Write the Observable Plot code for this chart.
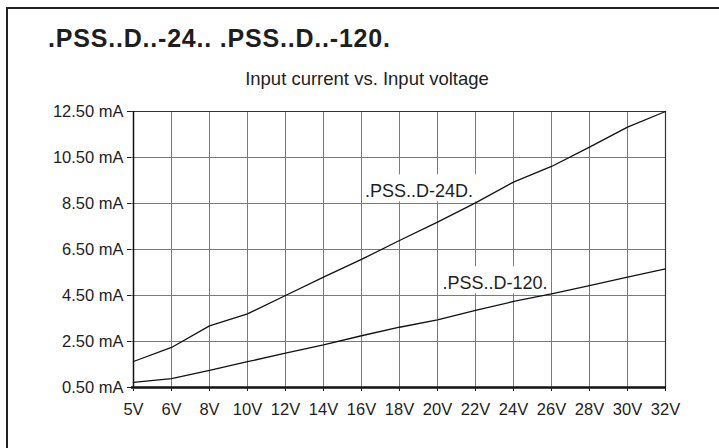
<!DOCTYPE html>
<html>
<head>
<meta charset="utf-8">
<script src="https://cdn.jsdelivr.net/npm/d3@7"></script>
<script src="https://cdn.jsdelivr.net/npm/@observablehq/plot@0.6"></script>
<style>
  html, body { margin: 0; padding: 0; overflow: hidden; background: #fff; width: 719px; height: 448px; }
  #wrap { position: relative; width: 719px; height: 448px; font-family: "Liberation Sans", Arial, sans-serif; color: #1e1e1e; }
  #frame { position: absolute; left: 6px; top: 7px; width: 800px; height: 800px; border: 2px solid #222; box-sizing: border-box; }
  #title { position: absolute; left: 48px; top: 26px; font-size: 25px; line-height: 25px; font-weight: bold; letter-spacing: 0.8px; white-space: nowrap; }
  #subtitle { position: absolute; left: 367px; top: 70px; transform: translateX(-50%); font-size: 18.5px; line-height: 18.5px; white-space: nowrap; }
  #chart { position: absolute; left: 0; top: 0; }
</style>
</head>
<body>
<div id="wrap">
  <div id="frame"></div>
  <div id="title">.PSS..D..-24.. .PSS..D..-120.</div>
  <div id="subtitle">Input current vs. Input voltage</div>
  <div id="chart"></div>
</div>
<script>
const voltages = ["5V","6V","8V","10V","12V","14V","16V","18V","20V","22V","24V","26V","28V","30V","32V"];
const current24 = [1.63, 2.24, 3.18, 3.70, 4.50, 5.30, 6.07, 6.89, 7.69, 8.53, 9.43, 10.11, 10.95, 11.82, 12.50];
const current120 = [0.72, 0.89, 1.24, 1.62, 1.99, 2.35, 2.75, 3.12, 3.44, 3.85, 4.24, 4.57, 4.93, 5.30, 5.66];
const yTicks = [0.5, 2.5, 4.5, 6.5, 8.5, 10.5, 12.5];
const seriesNames = [".PSS..D-24D.", ".PSS..D-120."];
const labelAt = ["18V", "22V"];
const labelValue = [9.02, 5.02];

const rows24 = voltages.map((v, i) => ({v, i: current24[i]}));
const rows120 = voltages.map((v, i) => ({v, i: current120[i]}));
const labels = seriesNames.map((name, k) => ({name, v: labelAt[k], i: labelValue[k]}));

const plot = Plot.plot({
  width: 719,
  height: 448,
  marginLeft: 131,
  marginRight: 53,
  marginTop: 111,
  marginBottom: 61,
  style: { fontFamily: "Liberation Sans, Arial, sans-serif", fontSize: "16px", color: "#1e1e1e", background: "transparent" },
  x: { type: "point", domain: voltages, padding: 0, label: null },
  y: { domain: [0.5, 12.5], label: null },
  marks: [
    Plot.gridX({ stroke: "#7a7a7a", strokeOpacity: 1, strokeWidth: 1 }),
    Plot.gridY(yTicks, { stroke: "#7a7a7a", strokeOpacity: 1, strokeWidth: 1 }),
    Plot.ruleY([12.5], { stroke: "#333", strokeWidth: 1.2 }),
    Plot.ruleX(["32V"], { stroke: "#333", strokeWidth: 1.2 }),
    Plot.ruleX(["5V"], { stroke: "#111", strokeWidth: 1.5 }),
    Plot.ruleY([0.5], { stroke: "#111", strokeWidth: 2.5 }),
    Plot.axisX({ tickSize: 4, tickPadding: 12, fontSize: 16.5, label: null }),
    Plot.axisY(yTicks, { tickSize: 4, tickPadding: 4, fontSize: 16.5, label: null, tickFormat: d => d.toFixed(2) + " mA" }),
    Plot.text(labels, { x: "v", y: "i", text: "name", dx: 19.5, fontSize: 18, fill: "#1e1e1e", className: "serieslabel" }),
    Plot.line(rows24, { x: "v", y: "i", stroke: "#111", strokeWidth: 1.3 }),
    Plot.line(rows120, { x: "v", y: "i", stroke: "#111", strokeWidth: 1.3 })
  ]
});

document.getElementById("chart").appendChild(plot);

// white boxes behind the series labels (gridlines are interrupted there)
plot.querySelectorAll(".serieslabel text").forEach(t => {
  const b = t.getBBox();
  const r = document.createElementNS("http://www.w3.org/2000/svg", "rect");
  r.setAttribute("x", b.x - 3);
  r.setAttribute("y", b.y - 7);
  r.setAttribute("width", b.width + 6);
  r.setAttribute("height", b.height + 7);
  r.setAttribute("fill", "#fff");
  const tr = t.getAttribute("transform");
  if (tr) r.setAttribute("transform", tr);
  t.parentNode.insertBefore(r, t);
});
</script>
</body>
</html>
